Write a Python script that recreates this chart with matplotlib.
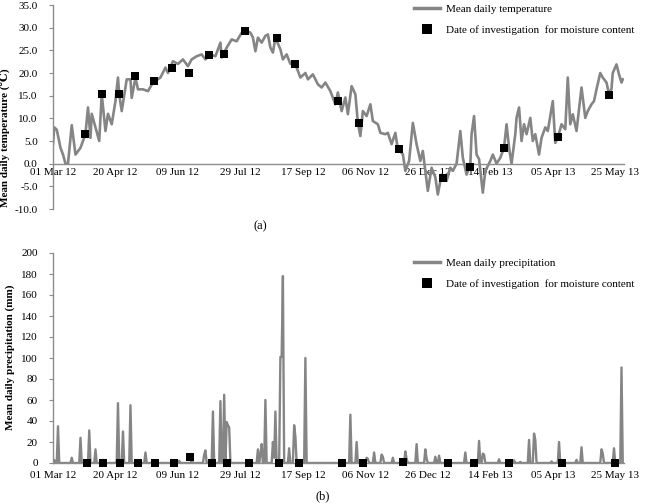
import numpy as np
import matplotlib
matplotlib.use("Agg")
import matplotlib.pyplot as plt
from matplotlib.lines import Line2D

plt.rcParams["font.family"] = ["Liberation Serif", "DejaVu Serif"]
plt.rcParams["axes.unicode_minus"] = False

# x positions are days counted from 01 Mar 2012
tick_days = [0, 50, 100, 150, 200, 250, 300, 350, 400, 450]
tick_labels = ["01 Mar 12", "20 Apr 12", "09 Jun 12", "29 Jul 12", "17 Sep 12",
               "06 Nov 12", "26 Dec 12", "14 Feb 13", "05 Apr 13", "25 May 13"]

temp_days = [0, 1, 3, 6, 8, 10, 12, 15, 18, 22, 24, 26, 28, 30, 31, 34, 37, 39, 42, 44,
             47, 50, 52, 53, 55, 59, 62, 63, 66, 68, 72, 76, 80, 86, 90, 92, 96, 100, 104, 108,
             111, 115, 119, 122, 126, 130, 134, 135, 139, 143, 147, 151, 155, 158, 160, 162, 164, 167, 170, 172,
             174, 176, 178, 182, 184, 187, 190, 192, 195, 198, 202, 204, 208, 212, 215, 218, 222, 226, 228, 231,
             234, 236, 239, 242, 244, 246, 248, 251, 254, 256, 260, 262, 266, 268, 271, 274, 276, 280, 282, 285,
             288, 291, 294, 296, 299, 300, 303, 306, 308, 311, 315, 318, 320, 323, 326, 328, 331, 334, 335, 337,
             339, 341, 344, 346, 350, 352, 355, 358, 361, 363, 365, 367, 370, 371, 373, 375, 377, 379, 382, 384,
             386, 389, 391, 394, 396, 400, 402, 404, 407, 410, 412, 414, 416, 419, 423, 426, 428, 431, 433, 435,
             438, 440, 443, 445, 447, 448, 451, 453, 455, 456]
temp_vals = [4.3, 8.0, 7.5, 3.5, 2.0, 0.0, 0.0, 8.5, 2.0, 3.5, 5.0, 6.6, 12.4, 5.7, 11.0, 8.0, 5.0, 15.3, 7.2, 11.0,
             8.7, 13.8, 19.0, 15.3, 11.6, 18.6, 18.6, 14.5, 19.0, 16.4, 16.4, 16.0, 17.9, 19.0, 21.2, 20.0, 22.6, 22.0, 23.0, 21.5,
             23.0, 23.7, 24.1, 23.0, 24.1, 23.7, 26.7, 23.4, 25.6, 27.4, 27.0, 28.9, 29.3, 28.9, 27.8, 24.8, 27.8, 26.7, 28.2, 28.5,
             25.6, 24.5, 27.8, 25.2, 23.0, 24.1, 22.0, 22.2, 21.2, 19.0, 20.0, 18.6, 19.7, 17.5, 16.8, 17.9, 16.0, 13.1, 15.7, 11.6,
             14.6, 10.9, 17.1, 15.3, 9.0, 6.1, 11.6, 10.5, 13.1, 9.4, 8.7, 6.8, 6.5, 6.8, 4.3, 6.8, 3.2, 2.1, -1.6, 0.6,
             9.0, 4.3, 0.6, 2.8, -3.8, -6.0, -0.9, -3.0, -6.8, -2.4, -3.8, -0.9, -1.6, 0.0, 7.2, 1.3, -2.4, -0.2, 6.5, 10.5,
             2.0, 1.0, -6.4, -1.6, 0.6, 2.0, 0.0, 1.3, 3.5, 8.7, 3.5, 0.0, 6.5, 10.1, 12.4, 5.0, 8.7, 6.5, 10.1, 5.0,
             6.5, 2.0, 5.7, 8.0, 7.2, 13.8, 4.6, 5.7, 8.7, 7.6, 19.0, 8.7, 10.9, 7.2, 16.8, 10.1, 11.6, 13.1, 13.8, 16.4,
             20.0, 19.0, 17.9, 15.3, 16.5, 20.0, 21.9, 19.7, 17.9, 18.6]

# dates of investigation for moisture content (top panel)
inv_days_a = [26, 39, 53, 66, 81, 95, 109, 125, 137, 154, 179, 194, 228, 245, 277, 312, 334, 361, 404, 445]
inv_vals_a = [6.6, 15.3, 15.3, 19.3, 18.2, 21.0, 20.1, 23.9, 24.1, 29.3, 27.8, 22.0, 13.8, 8.9, 3.2, -3.1, -0.7, 3.5, 5.9, 15.2]

# mean daily precipitation: rain days only, every other day is 0
rain_days = [1, 4, 15, 22, 29, 34, 40, 51, 52, 56, 62, 74, 101, 111, 121, 122, 128, 134, 137, 139,
             140, 141, 164, 166, 167, 170, 176, 177, 178, 182, 183, 184, 189, 193, 194, 202, 238, 243, 251, 252,
             257, 263, 264, 272, 282, 283, 291, 298, 299, 306, 309, 330, 341, 344, 345, 357, 369, 374, 381, 385,
             386, 399, 405, 419, 423, 439, 440, 449, 455]
rain_mm = [3, 35, 5, 24, 31, 13, 3, 2, 57, 30, 55, 10, 2, 3, 8, 12, 49, 59, 65, 39,
           36, 34, 13, 8, 18, 60, 20, 5, 49, 101, 101, 178, 14, 36, 25, 100, 46, 20, 5, 4,
           10, 8, 6, 5, 11, 4, 18, 13, 4, 6, 7, 10, 21, 9, 8, 3.5, 2.5, 1, 22, 28,
           22, 1.5, 20, 3, 15, 13, 9, 14, 91]
n_days = 457

# dates of investigation for moisture content (bottom panel)
inv_days_b = [27, 40, 54, 68, 82, 97, 110, 127, 139, 157, 181, 197, 231, 248, 280, 316, 337, 365, 407, 450]
inv_vals_b = [0, 0, 0, 0, 0, 0, 6, 0, 0, 0, 0, 0, 0, 0, 1, 0, 0, 0, 0, 0]

GRAY = "#858585"
AXC = "#8c8c8c"
FS = 8

W, H = 649, 504
fig = plt.figure(figsize=(W / 100, H / 100), dpi=100)
ax1 = fig.add_axes([53 / W, 1 - 209 / H, 571 / W, 204 / H])
ax2 = fig.add_axes([53 / W, 1 - 463 / H, 571 / W, 210 / H])

# --- (a) temperature ---
ax1.plot(temp_days, temp_vals, color=GRAY, lw=1.9, solid_joinstyle="round")
ax1.plot(inv_days_a, inv_vals_a, "s", color="black", ms=5.6, mew=0, ls="none", zorder=5)
ax1.set_xlim(0, n_days)
ax1.set_ylim(-10, 35)
ax1.set_yticks(np.arange(-10, 36, 5))
ax1.set_yticklabels([f"{v:.1f}" for v in np.arange(-10, 36, 5)])
ax1.spines["bottom"].set_position(("data", 0))
ax1.set_ylabel("Mean daily temperature (\u2103)", fontsize=FS, fontweight="bold")
ax1.yaxis.set_label_coords(-0.075, 0.35)

# --- (b) precipitation ---
precip = np.zeros(n_days)
precip[rain_days] = rain_mm
ax2.plot(np.arange(n_days), precip, color=GRAY, lw=1.7, solid_joinstyle="round")
ax2.plot(inv_days_b, inv_vals_b, "s", color="black", ms=5.2, mew=0, ls="none", zorder=5, clip_on=False)
ax2.set_xlim(0, n_days)
ax2.set_ylim(0, 200)
ax2.set_yticks(np.arange(0, 201, 20))
ax2.set_ylabel("Mean daily precipitation (mm)", fontsize=FS, fontweight="bold")
ax2.yaxis.set_label_coords(-0.067, 0.505)

for ax, pad in ((ax1, 3), (ax2, 6)):
    ax.set_xticks(tick_days)
    ax.set_xticklabels(tick_labels)
    for s in ("top", "right"):
        ax.spines[s].set_visible(False)
    for s in ("left", "bottom"):
        ax.spines[s].set_color(AXC)
        ax.spines[s].set_linewidth(1.0)
    ax.tick_params(axis="x", length=0, pad=pad, labelsize=FS)
    ax.tick_params(axis="y", length=3, width=0.8, color=AXC, pad=8, labelsize=FS)

# legends
leg_labels = {ax1: "Mean daily temperature", ax2: "Mean daily precipitation"}
for ax, top in ((ax1, 4), (ax2, 258)):
    handles = [Line2D([], [], color=GRAY, lw=2.5),
               Line2D([], [], marker="s", color="black", mew=0, ms=7, ls="none")]
    ax.legend(handles, [leg_labels[ax], "Date of investigation  for moisture content"],
              loc="upper left", bbox_to_anchor=(414 / W, 1 - top / H),
              bbox_transform=fig.transFigure, frameon=False, fontsize=FS,
              handlelength=2.3, handletextpad=0.6, labelspacing=1.0,
              borderpad=0, borderaxespad=0)

fig.text(260 / W, 1 - 226 / H, "(a)", ha="center", va="center", fontsize=9)
fig.text(323 / W, 1 - 496 / H, "(b)", ha="center", va="center", fontsize=9)

fig.savefig("out.png", dpi=100)
